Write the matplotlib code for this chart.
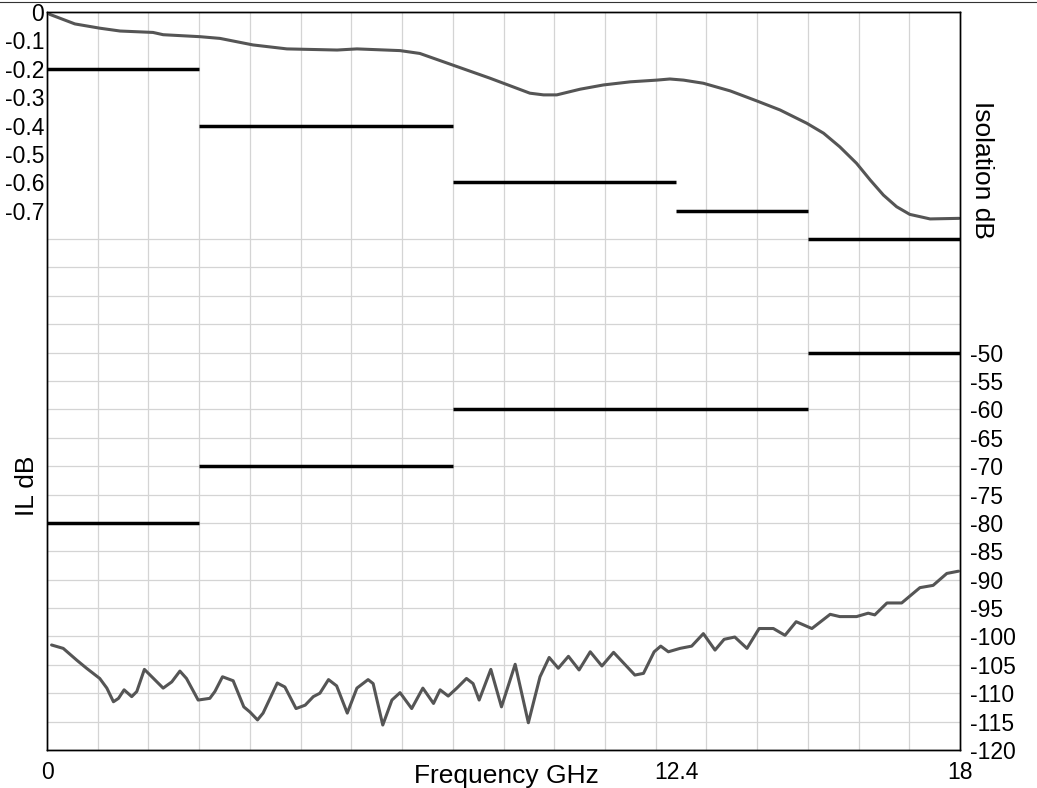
import numpy as np
import matplotlib
matplotlib.use('Agg')
import matplotlib.pyplot as plt
from matplotlib.lines import Line2D

plt.rcParams['font.family'] = ['Liberation Sans', 'DejaVu Sans']

# insertion loss curve (GHz, dB)
il_freq = [0.05, 0.55, 1.04, 1.44, 2.09, 2.29, 3.02, 3.41, 4.06, 4.73, 5.72, 6.11, 6.96, 7.35,
           8.00, 8.73, 9.52, 9.79, 10.05, 10.51, 10.97, 11.50, 12.02, 12.28, 12.55, 12.94,
           13.47, 13.99, 14.45, 14.98, 15.31, 15.63, 15.96, 16.23, 16.49, 16.75, 17.01,
           17.41, 17.98]
il_db = [-0.008, -0.042, -0.057, -0.067, -0.072, -0.080, -0.087, -0.093, -0.116, -0.130,
         -0.134, -0.130, -0.136, -0.146, -0.187, -0.233, -0.286, -0.292, -0.292, -0.272,
         -0.257, -0.246, -0.240, -0.236, -0.240, -0.251, -0.278, -0.313, -0.345, -0.392,
         -0.427, -0.475, -0.533, -0.592, -0.645, -0.686, -0.713, -0.729, -0.727]

# isolation curve (GHz, dB)
iso_freq = [0.09, 0.32, 0.59, 0.78, 1.04, 1.18, 1.31, 1.41, 1.52, 1.67, 1.77, 1.92, 2.10,
            2.29, 2.46, 2.62, 2.75, 2.98, 3.21, 3.31, 3.46, 3.67, 3.88, 4.00, 4.15, 4.26,
            4.54, 4.69, 4.91, 5.09, 5.25, 5.38, 5.55, 5.71, 5.92, 6.11, 6.33, 6.43, 6.62,
            6.80, 6.96, 7.19, 7.41, 7.62, 7.75, 7.91, 8.08, 8.27, 8.40, 8.52, 8.75, 8.96,
            9.23, 9.49, 9.72, 9.90, 10.08, 10.28, 10.49, 10.71, 10.94, 11.17, 11.59, 11.76,
            11.97, 12.10, 12.25, 12.48, 12.71, 12.94, 13.17, 13.35, 13.56, 13.80, 14.04,
            14.32, 14.55, 14.77, 15.08, 15.44, 15.63, 15.96, 16.19, 16.32, 16.56, 16.85,
            17.21, 17.47, 17.74, 17.97]
iso_db = [-101.5, -102.1, -104.2, -105.6, -107.4, -109.1, -111.5, -110.9, -109.4, -110.6,
          -109.7, -105.8, -107.4, -109.1, -108.0, -106.1, -107.4, -111.2, -110.9, -109.7,
          -107.1, -107.8, -112.4, -113.3, -114.7, -113.5, -108.2, -108.9, -112.7, -112.1,
          -110.6, -110.0, -107.6, -108.7, -113.5, -109.1, -107.6, -108.3, -115.6, -111.2,
          -109.9, -112.7, -109.1, -111.8, -109.4, -110.5, -109.1, -107.4, -108.3, -111.2,
          -105.8, -112.4, -104.9, -115.2, -107.1, -103.7, -105.6, -103.5, -105.9, -102.7,
          -105.2, -102.8, -106.8, -106.5, -102.7, -101.7, -102.7, -102.1, -101.7, -99.5,
          -102.4, -100.5, -100.1, -102.1, -98.6, -98.6, -99.8, -97.4, -98.6, -96.1, -96.5,
          -96.5, -95.9, -96.2, -94.1, -94.1, -91.4, -91.0, -88.9, -88.5]

# spec limits
il_spec_start = [0, 3, 8, 12.4, 15]
il_spec_end = [3, 8, 12.4, 15, 18]
il_spec_val = [-0.2, -0.4, -0.6, -0.7, -0.8]
iso_spec_start = [0, 3, 8, 15]
iso_spec_end = [3, 8, 15, 18]
iso_spec_val = [-80, -70, -60, -50]

il_ticks = [0, -0.1, -0.2, -0.3, -0.4, -0.5, -0.6, -0.7]
iso_ticks = [-50, -55, -60, -65, -70, -75, -80, -85, -90, -95, -100, -105, -110, -115, -120]
x_ticks = [0, 12.4, 18]
x_labels = ['0', '12.4', '18']

W, H = 1037, 788
fig = plt.figure(figsize=(W / 100, H / 100), dpi=100)
ax = fig.add_axes([47 / W, 1 - 750 / H, 913 / W, 738 / H])
ax2 = ax.twinx()

ax.set_xlim(0, 18)
ax.set_ylim(-2.6, 0)
ax2.set_ylim(-120, 10)

# grid
ax.set_xticks(np.arange(0, 19, 1), minor=True)
ax.set_yticks(np.round(np.arange(-2.6, 0.001, 0.1), 2), minor=True)
ax.grid(which='minor', color='#d4d4d4', linewidth=0.9)
ax.set_axisbelow(True)

ax.set_xticks(x_ticks)
ax.set_xticklabels(x_labels)
ax.set_yticks(il_ticks)
ax.set_yticklabels(['0'] + ['%.1f' % v for v in il_ticks[1:]])
ax2.set_yticks(iso_ticks)
ax2.set_yticklabels([str(v) for v in iso_ticks])

ax.tick_params(axis='both', which='both', length=0)
ax.tick_params(axis='y', labelsize=16.5, pad=2)
ax.tick_params(axis='x', labelsize=16.5, pad=8)
ax2.tick_params(axis='y', length=0, labelsize=16.5, pad=7)

for a in (ax, ax2):
    for s in a.spines.values():
        s.set_linewidth(1.0)
        s.set_color('black')

ax.plot(il_freq, il_db, color='#555555', linewidth=2.2, solid_capstyle='round')
ax2.plot(iso_freq, iso_db, color='#555555', linewidth=2.2, solid_capstyle='round',
         solid_joinstyle='round')
ax.hlines(il_spec_val, il_spec_start, il_spec_end, color='black', linewidth=2.5)
ax2.hlines(iso_spec_val, iso_spec_start, iso_spec_end, color='black', linewidth=2.5)

fig.text(506 / W, 1 - 783 / H, 'Frequency GHz', ha='center', va='baseline', fontsize=19)
fig.text(27 / W, 1 - 486 / H, 'IL dB', ha='center', va='center', rotation=90, fontsize=19)
fig.text(982 / W, 1 - 170 / H, 'Isolation dB', ha='center', va='center', rotation=270, fontsize=19)

fig.add_artist(Line2D([0, 1], [1 - 1.5 / H, 1 - 1.5 / H], transform=fig.transFigure,
                      color='#333333', linewidth=0.8))

fig.savefig('out.png', dpi=100)
